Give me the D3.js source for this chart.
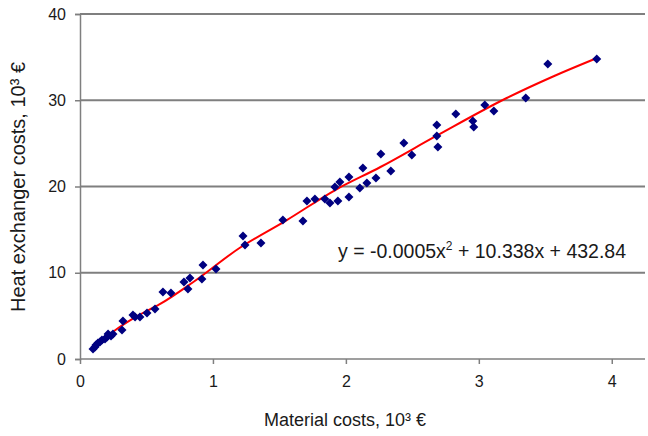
<!DOCTYPE html>
<html>
<head>
<meta charset="utf-8">
<script src="https://cdn.jsdelivr.net/npm/d3@7"></script>
<style>
  body { margin: 0; background: #fff; }
  svg text { font-family: Arial, "Liberation Sans", sans-serif; fill: #1a1a1a; }
</style>
</head>
<body>
<svg id="chart" width="648" height="436"></svg>
<script>
// material costs (10^3 EUR) vs heat exchanger costs (10^3 EUR)
var materialCosts = [0.098, 0.113, 0.12, 0.135, 0.15, 0.165, 0.188, 0.203, 0.211, 0.233,
    0.248, 0.316, 0.323, 0.398, 0.414, 0.451, 0.504, 0.564, 0.624, 0.684,
    0.782, 0.827, 0.812, 0.917, 0.925, 1.023, 1.226, 1.241, 1.361, 1.526,
    1.677, 1.707, 1.767, 1.842, 1.880, 1.940, 1.917, 1.955, 2.023, 2.023,
    2.105, 2.158, 2.128, 2.226, 2.338, 2.263, 2.436, 2.496, 2.684, 2.684,
    2.692, 2.827, 2.955, 2.962, 3.045, 3.113, 3.353, 3.519, 3.887];
var exchangerCosts = [1.16, 1.39, 1.62, 1.86, 1.97, 2.20, 2.32, 2.55, 2.90, 2.67,
    2.90, 3.36, 4.41, 5.10, 4.87, 4.87, 5.33, 5.80, 7.77, 7.65,
    8.93, 9.39, 8.12, 9.28, 10.90, 10.43, 14.26, 13.22, 13.45, 16.12,
    16.0, 18.32, 18.55, 18.55, 18.09, 18.32, 19.94, 20.52, 21.10, 18.78,
    19.83, 20.41, 22.14, 20.99, 21.80, 23.77, 25.04, 23.65, 27.13, 25.86,
    24.58, 28.41, 27.59, 26.90, 29.45, 28.75, 30.26, 34.20, 34.78];

// polynomial trend line
var trendX = [0.11, 0.29, 0.43, 0.60, 0.85, 1.20, 1.55, 1.92, 2.26, 2.68, 3.21, 3.55, 3.89];
var trendY = [1.39, 3.62, 4.98, 6.35, 8.90, 12.87, 16.05, 19.59, 22.26, 25.86, 30.26, 32.70, 34.90];

var xTicks = [0, 1, 2, 3, 4];
var yTicks = [0, 10, 20, 30, 40];
var xTitle = "Material costs, 10\u00B3 \u20AC";
var yTitle = "Heat exchanger costs, 10\u00B3 \u20AC";

var svg = d3.select("#chart");

var x = d3.scaleLinear().domain([0, 4.25]).range([80, 645]);
var y = d3.scaleLinear().domain([0, 40]).range([359, 14]);

// horizontal grid lines
svg.append("g")
    .selectAll("line")
    .data(yTicks.filter(function(d) { return d > 0; }))
    .enter()
    .append("line")
    .attr("x1", x(0))
    .attr("x2", x(4.25))
    .attr("y1", function(d) { return y(d); })
    .attr("y2", function(d) { return y(d); })
    .attr("stroke", "#7f7f7f")
    .attr("stroke-width", 2);

// axes
var xAxis = svg.append("g")
    .attr("transform", "translate(0," + y(0) + ")")
    .call(d3.axisBottom(x).tickValues(xTicks).tickSize(5).tickPadding(12).tickFormat(d3.format("d")));
var yAxis = svg.append("g")
    .attr("transform", "translate(" + x(0) + ",0)")
    .call(d3.axisLeft(y).tickValues(yTicks).tickSize(5).tickPadding(9).tickFormat(d3.format("d")));

[xAxis, yAxis].forEach(function(g) {
    g.select(".domain").attr("stroke", "#7f7f7f").attr("stroke-width", 1.5);
    g.selectAll(".tick line").attr("stroke", "#7f7f7f").attr("stroke-width", 1.5);
    g.selectAll(".tick text").attr("font-size", 16).attr("fill", "#1a1a1a")
        .attr("font-family", "Arial, 'Liberation Sans', sans-serif");
});
xAxis.select(".domain").attr("d", "M" + x(0) + ",0H" + x(4.25));

// trend line
var line = d3.line()
    .x(function(d, i) { return x(trendX[i]); })
    .y(function(d, i) { return y(trendY[i]); })
    .curve(d3.curveMonotoneX);
svg.append("path")
    .attr("d", line(trendX))
    .attr("fill", "none")
    .attr("stroke", "#ff0000")
    .attr("stroke-width", 2);

// scatter diamonds (square turned 45 degrees, like the excel marker)
svg.append("g")
    .selectAll("path")
    .data(materialCosts)
    .enter()
    .append("path")
    .attr("d", "M0,-4.5L4.5,0L0,4.5L-4.5,0Z")
    .attr("transform", function(d, i) {
        return "translate(" + x(d) + "," + y(exchangerCosts[i]) + ")";
    })
    .attr("fill", "#000080");

// equation label
var eq = svg.append("text")
    .attr("x", 338)
    .attr("y", 258)
    .attr("font-size", 19.5);
eq.append("tspan").text("y = -0.0005x");
eq.append("tspan").attr("font-size", 12).attr("dy", -8).text("2");
eq.append("tspan").attr("dy", 8).text(" + 10.338x + 432.84");

// axis titles
svg.append("text")
    .attr("x", 345)
    .attr("y", 426)
    .attr("text-anchor", "middle")
    .attr("font-size", 18)
    .text(xTitle);
svg.append("text")
    .attr("transform", "translate(25,187) rotate(-90)")
    .attr("text-anchor", "middle")
    .attr("font-size", 20)
    .text(yTitle);
</script>
</body>
</html>
